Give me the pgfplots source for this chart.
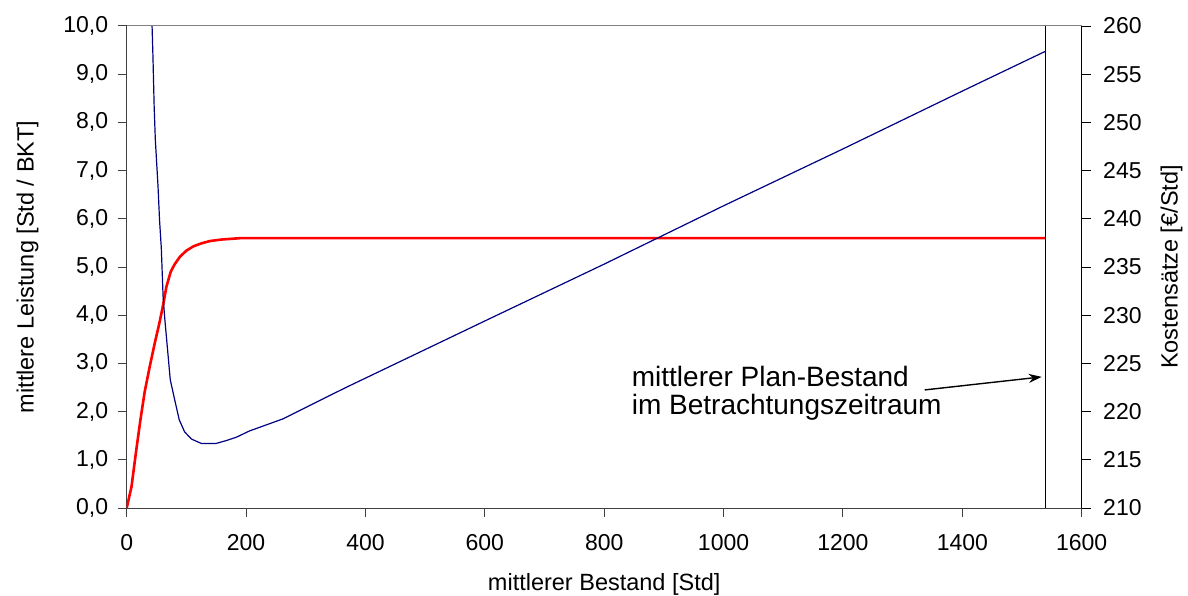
\documentclass[border=0pt]{standalone}
\usepackage{fontspec}
\setmainfont{Liberation Sans}
\usepackage{pgfplots}
\pgfplotsset{compat=1.18}
\usetikzlibrary{calc,arrows.meta}
\definecolor{navyline}{RGB}{0,0,128}
\begin{document}
\begin{tikzpicture}
\pgfplotsset{
 every axis/.append style={
  scale only axis, width=955pt, height=482pt,
  xmin=0, xmax=1600,
  /pgf/number format/assume math mode=true,
  tick label style={font=\fontsize{23}{23}\selectfont},
  label style={font=\fontsize{23.5}{23.5}\selectfont},
  tick align=outside,
  major tick length=9pt,
 }
}
\begin{axis}[
  name=main,
  axis x line*=bottom, axis y line*=left,
  axis line style={black!75, line width=1pt},
  tick style={draw=black!75, line width=1pt},
  ymin=0, ymax=10,
  ytick={0,1,...,10},
  xtick={0,200,...,1600},
  yticklabel style={/pgf/number format/.cd, fixed, fixed zerofill, precision=1, use comma},
  xticklabel style={/pgf/number format/.cd, set thousands separator={}},
  yticklabel shift=6pt,
  xticklabel shift=14pt,
  xlabel={mittlerer Bestand [Std]},
  ylabel={mittlere Leistung [Std / BKT]},
  xlabel shift=16pt,
  ylabel shift=18pt,
]
\coordinate (SW) at (rel axis cs:0,0);
\coordinate (NE) at (rel axis cs:1,1);
\coordinate (NW) at (rel axis cs:0,1);
\addplot[red, line width=2.6pt, line join=round] coordinates {
(0,0) (8,0.44) (16,1.2) (23,1.83) (30,2.4) (38.5,2.93) (47,3.42) (55,3.85)
(61,4.21) (66.5,4.59) (73.7,4.9) (80,5.05) (89,5.21) (100,5.34) (112,5.43)
(125,5.49) (140,5.54) (159,5.57) (192,5.6) (1540,5.6)
};
\draw[black, line width=1pt] (axis cs:1540,0) -- (axis cs:1540,10);
\draw[black, line width=1.4pt, -{Stealth[length=13pt,width=9pt]}] (axis cs:1337,2.45) -- (axis cs:1533,2.72);
\node[anchor=base west, inner sep=0pt, font=\fontsize{28}{28}\selectfont] at (axis cs:846,2.52) {mittlerer Plan-Bestand};
\node[anchor=base west, inner sep=0pt, font=\fontsize{28}{28}\selectfont] at (axis cs:846,1.93) {im Betrachtungszeitraum};
\end{axis}
\begin{axis}[
  axis y line*=right, hide x axis,
  axis line style={black, line width=1pt},
  tick style={draw=black, line width=1pt},
  ymin=210, ymax=260,
  ytick={210,215,...,260},
  yticklabel shift=9pt,
  ylabel={Kostensätze [€/Std]},
  ylabel shift=12pt,
]
\addplot[navyline, line width=1.2pt, line join=round] coordinates {
(42.5,260) (44,256.8) (46,251.65) (48,248.15) (52.5,243.35) (55,239.9)
(58,236.95) (61,231.9) (64,229.5) (69,226.05) (73,223.3) (80.5,221.2)
(88,219.15) (97,217.9) (108.5,217.15) (125,216.7) (150,216.7) (167,217.0)
(184,217.35) (206,218.0) (262,219.25) (346,221.85) (374,222.7) (600,229.4)
(800,235.3) (1000,241.35) (1200,247.25) (1400,253.25) (1540,257.4)
};
\end{axis}
\draw[black!50, line width=1pt] (NW) -- (NE);
\pgfresetboundingbox
\path ($(SW)+(-126.7pt,-87pt)$) rectangle ($(NE)+(106.3pt,26pt)$);
\end{tikzpicture}
\end{document}
